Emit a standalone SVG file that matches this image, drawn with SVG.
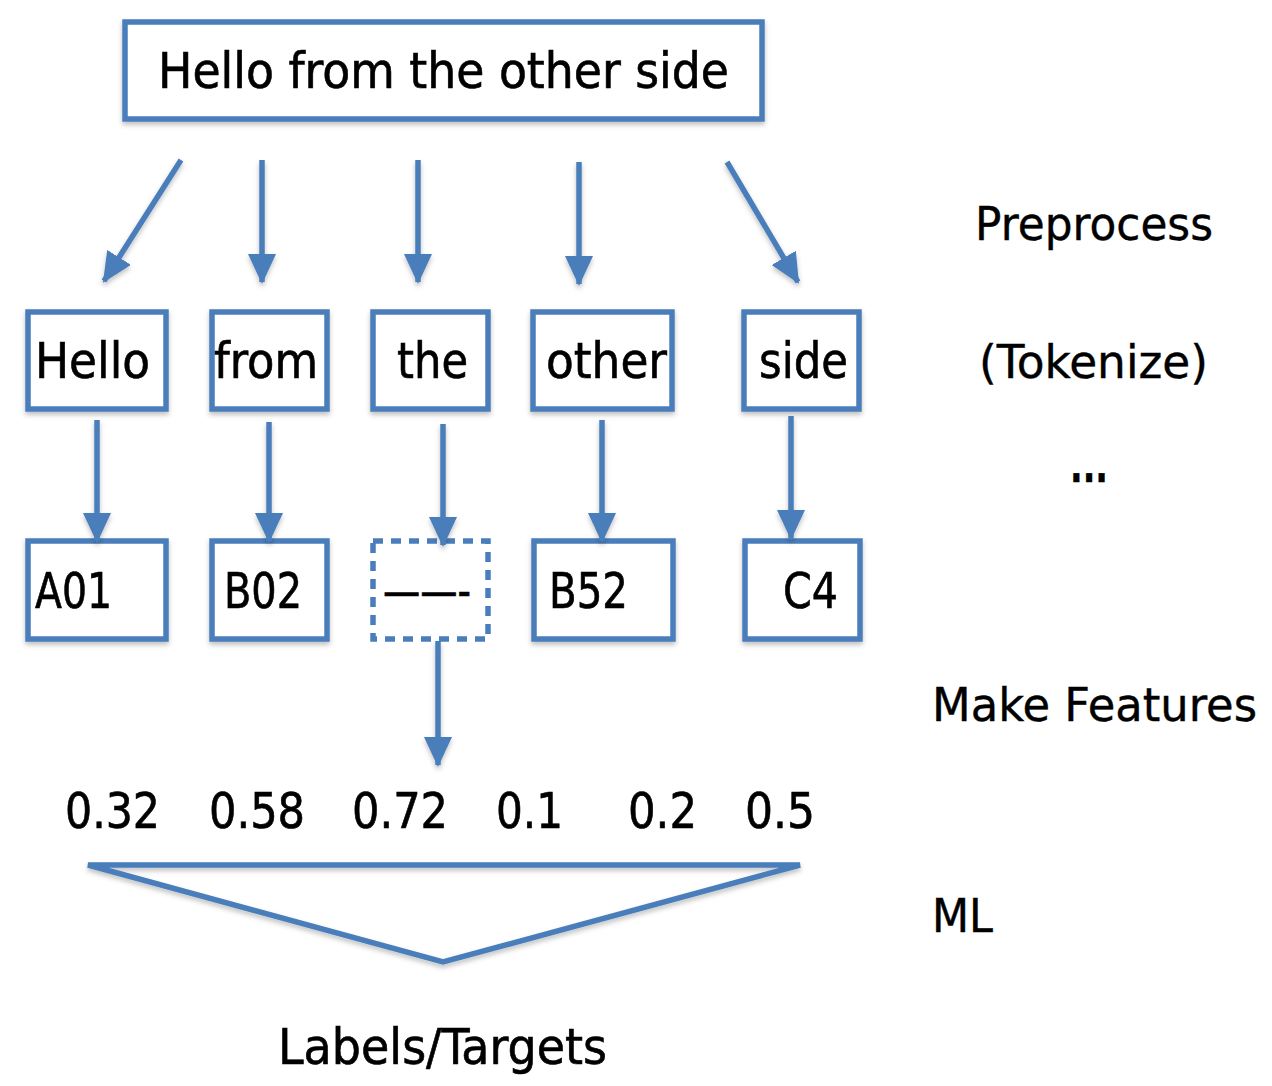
<svg xmlns="http://www.w3.org/2000/svg" width="1272" height="1086" viewBox="0 0 1272 1086">
<style>
.box{fill:#fff;stroke:#4a7ebb;stroke-width:5.5}
.dash{fill:#fff;stroke:#4a7ebb;stroke-width:5.5;stroke-dasharray:10 8}
.ln{fill:none;stroke:#4a7ebb;stroke-width:5.5}
.t{font-family:"Liberation Sans Narrow","DejaVu Sans Condensed","DejaVu Sans",sans-serif;font-size:50px;fill:#000;stroke:#000;stroke-width:0.6}
.r{font-family:"DejaVu Sans","Liberation Sans",sans-serif;font-size:46px;fill:#000;stroke:#000;stroke-width:0.4}
</style>
<defs>
<marker id="ah" markerUnits="userSpaceOnUse" markerWidth="30" markerHeight="28" viewBox="0 0 30 28" refX="28" refY="14" orient="auto">
<path d="M0,0 L30,14 L0,28 Z" fill="#4a7ebb"/>
</marker>
<filter id="sh" x="-10%" y="-10%" width="120%" height="130%">
<feDropShadow dx="0" dy="3" stdDeviation="2.5" flood-color="#000" flood-opacity="0.25"/>
</filter>
</defs>
<rect width="1272" height="1086" fill="#fff"/>
<g id="sentence" filter="url(#sh)">
<rect class="box" x="125" y="22" width="637" height="97"/>
<text class="t" x="158" y="88" textLength="571" lengthAdjust="spacingAndGlyphs">Hello from the other side</text>
</g>
<g id="tok-hello" filter="url(#sh)"><rect class="box" x="28" y="312" width="138" height="97"/><text class="t" x="35" y="378" textLength="115" lengthAdjust="spacingAndGlyphs">Hello</text></g>
<g id="tok-from" filter="url(#sh)"><rect class="box" x="212" y="312" width="115" height="97"/><text class="t" x="214" y="378" textLength="104" lengthAdjust="spacingAndGlyphs">from</text></g>
<g id="tok-the" filter="url(#sh)"><rect class="box" x="373" y="312" width="115" height="97"/><text class="t" x="397" y="378" textLength="71" lengthAdjust="spacingAndGlyphs">the</text></g>
<g id="tok-other" filter="url(#sh)"><rect class="box" x="533" y="312" width="139" height="97"/><text class="t" x="546" y="378" textLength="121" lengthAdjust="spacingAndGlyphs">other</text></g>
<g id="tok-side" filter="url(#sh)"><rect class="box" x="744" y="312" width="115" height="97"/><text class="t" x="759" y="378" textLength="89" lengthAdjust="spacingAndGlyphs">side</text></g>
<g id="f-a01" filter="url(#sh)"><rect class="box" x="28" y="541" width="138" height="98"/><text class="t" x="35" y="608" textLength="77" lengthAdjust="spacingAndGlyphs">A01</text></g>
<g id="f-b02" filter="url(#sh)"><rect class="box" x="212" y="541" width="115" height="98"/><text class="t" x="224" y="608" textLength="78" lengthAdjust="spacingAndGlyphs">B02</text></g>
<g id="f-missing"><rect class="dash" x="373" y="541" width="115" height="98"/><text class="t" x="383" y="608" textLength="88" lengthAdjust="spacingAndGlyphs">——-</text></g>
<g id="f-b52" filter="url(#sh)"><rect class="box" x="534" y="541" width="139" height="98"/><text class="t" x="549" y="608" textLength="79" lengthAdjust="spacingAndGlyphs">B52</text></g>
<g id="f-c4" filter="url(#sh)"><rect class="box" x="745" y="541" width="115" height="98"/><text class="t" x="783" y="608" textLength="55" lengthAdjust="spacingAndGlyphs">C4</text></g>
<g id="values">
<text class="t" x="65" y="828" textLength="95" lengthAdjust="spacingAndGlyphs">0.32</text>
<text class="t" x="209" y="828" textLength="96" lengthAdjust="spacingAndGlyphs">0.58</text>
<text class="t" x="352" y="828" textLength="96" lengthAdjust="spacingAndGlyphs">0.72</text>
<text class="t" x="496" y="828" textLength="67" lengthAdjust="spacingAndGlyphs">0.1</text>
<text class="t" x="628" y="828" textLength="69" lengthAdjust="spacingAndGlyphs">0.2</text>
<text class="t" x="745" y="828" textLength="70" lengthAdjust="spacingAndGlyphs">0.5</text>
</g>
<g id="ml-triangle" filter="url(#sh)">
<path class="ln" stroke-linejoin="miter" stroke-linecap="round" d="M88,865 L800,865 L443,962 Z"/>
</g>
<g id="labels-targets"><text class="t" x="278" y="1064" textLength="329" lengthAdjust="spacingAndGlyphs">Labels/Targets</text></g>
<g id="stage-labels">
<text class="r" x="975" y="240" textLength="238" lengthAdjust="spacingAndGlyphs">Preprocess</text>
<text class="r" x="979" y="378" textLength="229" lengthAdjust="spacingAndGlyphs">(Tokenize)</text>
<text class="r" x="1070" y="482" textLength="38" lengthAdjust="spacingAndGlyphs" font-weight="bold">...</text>
<text class="r" x="932" y="721" textLength="325" lengthAdjust="spacingAndGlyphs">Make Features</text>
<text class="r" x="932" y="932" textLength="61" lengthAdjust="spacingAndGlyphs">ML</text>
</g>
<g id="connectors" filter="url(#sh)">
<line class="ln" x1="181" y1="160" x2="104" y2="281" marker-end="url(#ah)"/>
<line class="ln" x1="262" y1="160" x2="262" y2="282" marker-end="url(#ah)"/>
<line class="ln" x1="418" y1="160" x2="418" y2="282" marker-end="url(#ah)"/>
<line class="ln" x1="579" y1="162" x2="579" y2="284" marker-end="url(#ah)"/>
<line class="ln" x1="727" y1="162" x2="798" y2="282" marker-end="url(#ah)"/>
<line class="ln" x1="97" y1="420" x2="97" y2="541" marker-end="url(#ah)"/>
<line class="ln" x1="269" y1="422" x2="269" y2="541" marker-end="url(#ah)"/>
<line class="ln" x1="443" y1="424" x2="443" y2="545" marker-end="url(#ah)"/>
<line class="ln" x1="602" y1="420" x2="602" y2="541" marker-end="url(#ah)"/>
<line class="ln" x1="791" y1="416" x2="791" y2="538" marker-end="url(#ah)"/>
<line class="ln" x1="438" y1="641" x2="438" y2="765" marker-end="url(#ah)"/>
</g>
</svg>
